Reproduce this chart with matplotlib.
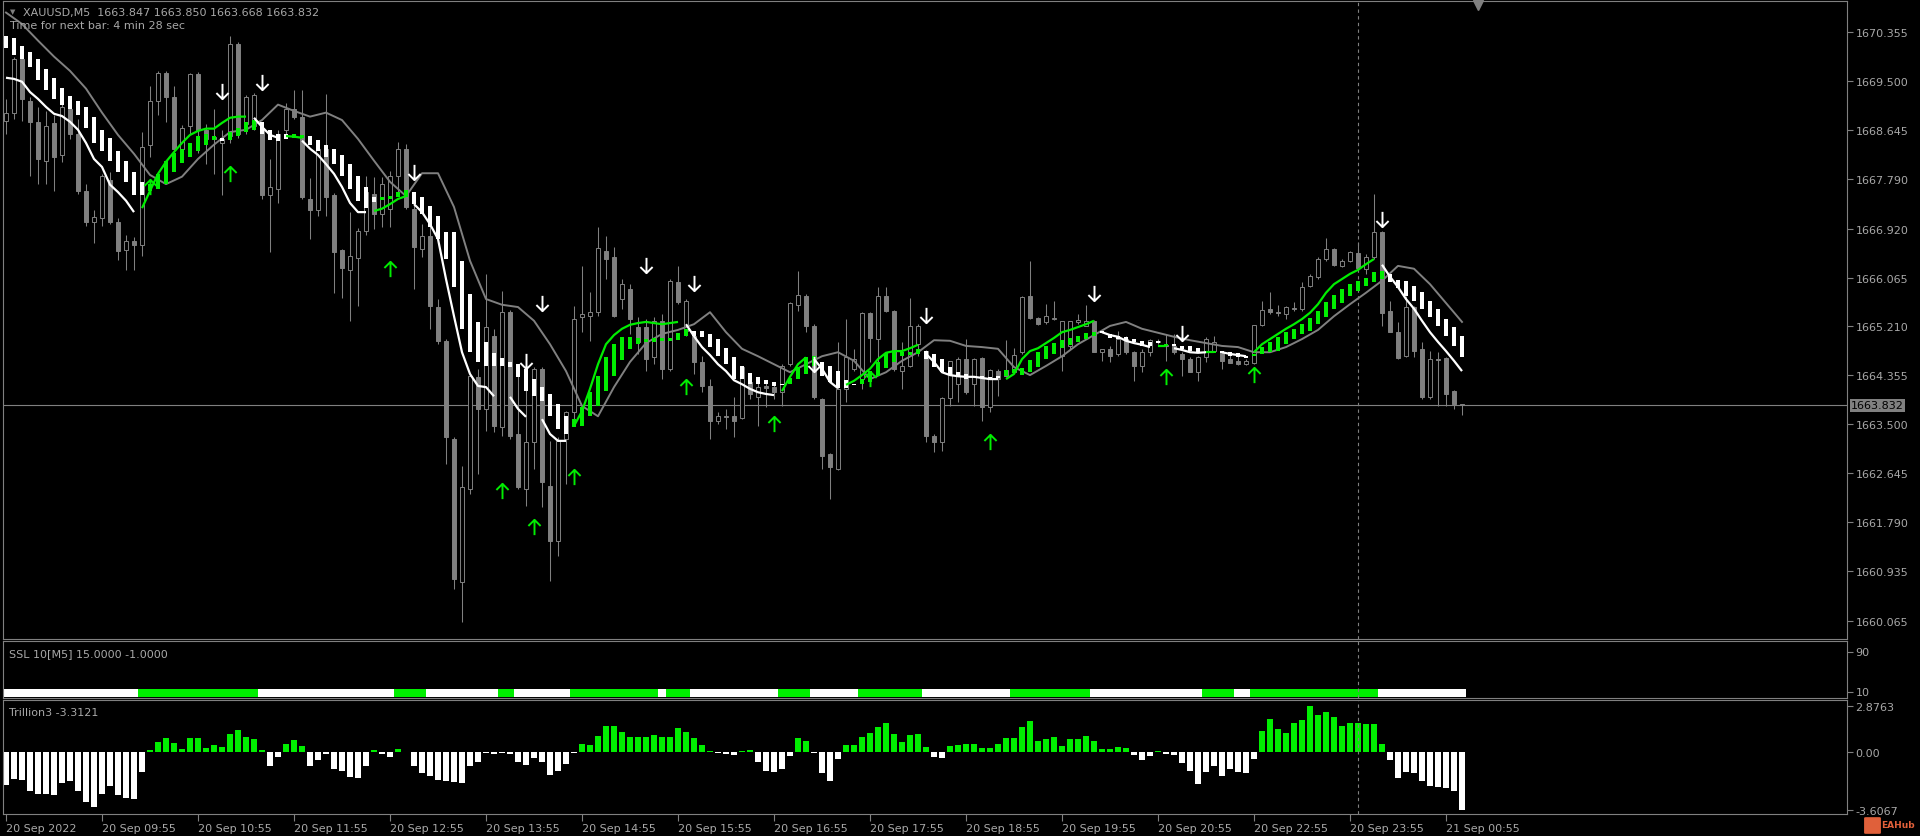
import numpy as np
import matplotlib.pyplot as plt
from matplotlib.path import Path
from matplotlib.patches import FancyBboxPatch
from matplotlib.transforms import blended_transform_factory

plt.rcParams['font.family'] = 'DejaVu Sans'

# ---- XAUUSD M5, 183 bars (20 Sep 08:55 .. 21 Sep 01:05) ----
opens = [1668.81, 1668.95, 1669.89, 1669.16, 1668.79, 1668.11, 1668.77, 1668.21, 1669.02, 1668.58,
         1667.58, 1667.04, 1667.11, 1667.77, 1667.04, 1666.55, 1666.71, 1666.64, 1668.39, 1669.16,
         1669.65, 1669.23, 1668.32, 1668.72, 1669.63, 1668.65, 1668.49, 1668.42, 1668.54, 1670.15,
         1668.75, 1668.72, 1668.68, 1667.51, 1667.62, 1668.65, 1669.02, 1668.88, 1667.44, 1667.25,
         1668.32, 1667.51, 1666.55, 1666.20, 1666.41, 1666.88, 1667.53, 1667.18, 1667.27, 1667.84,
         1668.32, 1667.27, 1666.57, 1666.79, 1665.55, 1664.96, 1663.24, 1660.74, 1662.37, 1664.33,
         1663.77, 1665.04, 1663.45, 1665.46, 1663.33, 1662.37, 1663.19, 1664.47, 1662.42, 1661.46,
         1663.24, 1663.71, 1665.38, 1665.39, 1665.46, 1666.53, 1666.43, 1665.69, 1665.87, 1665.20,
         1665.20, 1664.68, 1665.31, 1664.47, 1665.99, 1665.13, 1665.04, 1664.59, 1664.17, 1663.56,
         1663.64, 1663.64, 1663.61, 1664.24, 1663.98, 1664.17, 1664.15, 1664.06, 1664.55, 1665.59,
         1665.74, 1665.22, 1663.94, 1662.98, 1662.72, 1664.12, 1664.47, 1664.29, 1665.45, 1664.99,
         1665.74, 1665.48, 1664.43, 1664.52, 1664.90, 1664.78, 1663.29, 1663.19, 1663.96, 1664.20,
         1664.64, 1664.20, 1664.66, 1663.80, 1664.43, 1664.45, 1664.41, 1664.76, 1665.74, 1665.36,
         1665.29, 1665.34, 1664.69, 1664.87, 1665.29, 1665.22, 1665.31, 1664.76, 1664.82, 1664.73,
         1664.99, 1664.76, 1664.52, 1664.76, 1664.96, 1664.89, 1664.87, 1664.73, 1664.64, 1664.41,
         1664.68, 1664.78, 1664.76, 1664.64, 1664.61, 1664.55, 1664.57, 1665.23, 1665.52, 1665.46,
         1665.43, 1665.53, 1665.52, 1665.92, 1666.08, 1666.39, 1666.57, 1666.27, 1666.36, 1666.50,
         1666.22, 1666.43, 1666.86, 1665.48, 1665.11, 1664.69, 1665.55, 1664.82, 1663.98, 1664.64,
         1664.66, 1664.08, 1663.847]
highs = [1669.19, 1669.93, 1669.93, 1669.23, 1669.05, 1668.98, 1668.91, 1669.12, 1669.19, 1668.84,
         1667.70, 1667.25, 1667.88, 1667.91, 1667.11, 1666.81, 1666.78, 1668.61, 1669.42, 1669.68,
         1669.68, 1669.42, 1668.74, 1669.65, 1669.66, 1668.75, 1669.02, 1668.65, 1670.29, 1670.19,
         1669.26, 1669.30, 1668.75, 1668.14, 1668.65, 1669.12, 1669.35, 1669.35, 1667.81, 1668.39,
         1669.28, 1667.55, 1666.57, 1667.21, 1666.93, 1667.84, 1667.83, 1667.83, 1667.93, 1668.44,
         1668.40, 1667.44, 1667.00, 1667.04, 1665.69, 1664.99, 1663.28, 1662.77, 1664.38, 1664.47,
         1666.13, 1665.17, 1665.83, 1665.50, 1664.55, 1664.47, 1664.50, 1664.50, 1663.21, 1663.28,
         1663.73, 1665.57, 1666.27, 1665.81, 1666.95, 1666.79, 1666.60, 1666.04, 1665.95, 1665.38,
         1665.34, 1665.38, 1665.43, 1666.04, 1666.27, 1665.69, 1665.13, 1664.69, 1664.29, 1663.71,
         1663.77, 1663.98, 1664.50, 1664.29, 1664.24, 1664.24, 1664.20, 1664.55, 1665.64, 1666.18,
         1665.78, 1665.25, 1663.96, 1663.00, 1664.94, 1665.34, 1664.82, 1665.46, 1665.47, 1665.90,
         1665.90, 1665.50, 1664.94, 1665.71, 1665.25, 1664.80, 1663.33, 1663.98, 1664.61, 1664.68,
         1664.99, 1664.66, 1664.68, 1664.47, 1664.47, 1664.97, 1664.83, 1665.74, 1666.36, 1665.38,
         1665.60, 1665.66, 1665.31, 1665.31, 1665.43, 1665.59, 1665.33, 1664.82, 1664.87, 1665.13,
         1665.04, 1664.78, 1664.82, 1664.99, 1664.99, 1665.08, 1665.08, 1664.76, 1664.68, 1664.69,
         1665.03, 1665.04, 1664.78, 1664.73, 1664.69, 1664.64, 1665.24, 1665.66, 1665.81, 1665.59,
         1665.57, 1665.64, 1665.99, 1666.13, 1666.43, 1666.76, 1666.58, 1666.39, 1666.53, 1666.69,
         1666.48, 1667.53, 1666.88, 1665.66, 1665.29, 1665.74, 1665.57, 1664.94, 1664.78, 1664.76,
         1664.68, 1664.10, 1663.850]
lows = [1668.58, 1668.84, 1668.81, 1667.84, 1667.70, 1667.70, 1667.58, 1668.09, 1668.49, 1667.53,
        1666.97, 1666.67, 1666.97, 1667.00, 1666.37, 1666.20, 1666.20, 1666.44, 1668.18, 1668.91,
        1668.79, 1668.21, 1668.18, 1668.58, 1668.25, 1668.05, 1667.88, 1667.51, 1668.42, 1668.51,
        1668.58, 1668.65, 1667.44, 1666.51, 1667.37, 1668.58, 1668.84, 1667.44, 1666.74, 1667.14,
        1667.14, 1665.80, 1665.71, 1665.31, 1665.57, 1666.81, 1666.92, 1666.95, 1666.95, 1667.53,
        1667.27, 1665.87, 1666.43, 1665.17, 1664.90, 1662.80, 1660.62, 1660.04, 1662.28, 1662.63,
        1663.38, 1663.36, 1663.29, 1663.24, 1662.37, 1662.07, 1662.72, 1662.05, 1660.76, 1661.19,
        1662.45, 1663.59, 1665.11, 1664.96, 1665.39, 1666.04, 1665.38, 1665.52, 1665.08, 1664.73,
        1664.43, 1664.55, 1664.29, 1664.43, 1665.60, 1665.04, 1664.38, 1664.06, 1663.24, 1663.50,
        1663.42, 1663.28, 1663.59, 1663.94, 1663.47, 1663.80, 1663.94, 1663.82, 1664.52, 1665.48,
        1665.11, 1663.94, 1662.72, 1662.19, 1662.70, 1663.89, 1664.43, 1664.12, 1664.59, 1664.59,
        1665.46, 1664.43, 1664.12, 1664.50, 1664.69, 1663.19, 1663.01, 1663.03, 1663.82, 1663.89,
        1664.03, 1663.82, 1663.56, 1663.71, 1663.99, 1664.33, 1664.40, 1664.73, 1665.34, 1665.24,
        1665.25, 1665.32, 1664.43, 1664.82, 1665.25, 1665.21, 1664.76, 1664.61, 1664.59, 1664.69,
        1664.73, 1664.26, 1664.41, 1664.69, 1664.90, 1664.61, 1664.73, 1664.34, 1664.41, 1664.26,
        1664.59, 1664.76, 1664.47, 1664.57, 1664.54, 1664.53, 1664.55, 1665.22, 1665.43, 1665.39,
        1665.34, 1665.48, 1665.48, 1665.90, 1666.04, 1666.36, 1666.27, 1666.25, 1666.34, 1666.22,
        1666.13, 1666.39, 1665.22, 1665.11, 1664.64, 1664.68, 1664.68, 1663.94, 1663.94, 1663.82,
        1663.82, 1663.77, 1663.668]
closes = [1668.95, 1669.89, 1669.19, 1668.79, 1668.14, 1668.72, 1668.18, 1669.05, 1668.58, 1667.58,
          1667.04, 1667.13, 1667.84, 1667.04, 1666.53, 1666.71, 1666.64, 1668.35, 1669.16, 1669.65,
          1669.23, 1668.32, 1668.68, 1669.63, 1668.65, 1668.49, 1668.53, 1668.49, 1670.15, 1668.58,
          1669.23, 1669.26, 1667.51, 1667.65, 1668.58, 1669.02, 1668.88, 1667.48, 1667.25, 1668.32,
          1667.48, 1666.51, 1666.23, 1666.44, 1666.88, 1667.56, 1667.18, 1667.70, 1667.84, 1668.32,
          1667.30, 1666.60, 1666.79, 1665.57, 1664.96, 1663.28, 1660.79, 1662.40, 1664.34, 1663.77,
          1665.20, 1663.47, 1665.46, 1663.29, 1662.40, 1663.19, 1664.47, 1662.49, 1661.46, 1663.21,
          1663.71, 1665.34, 1665.43, 1665.46, 1666.58, 1666.39, 1665.39, 1665.95, 1665.34, 1664.94,
          1664.64, 1665.31, 1664.47, 1666.01, 1665.64, 1665.66, 1664.59, 1664.17, 1663.56, 1663.64,
          1663.63, 1663.56, 1664.50, 1664.03, 1664.15, 1664.13, 1664.06, 1664.52, 1665.62, 1665.76,
          1665.22, 1663.98, 1662.94, 1662.75, 1664.12, 1664.68, 1664.64, 1665.45, 1665.01, 1665.74,
          1665.48, 1664.47, 1664.52, 1665.22, 1665.22, 1663.29, 1663.19, 1663.96, 1664.61, 1664.64,
          1664.06, 1664.64, 1663.80, 1664.45, 1664.29, 1664.34, 1664.71, 1665.72, 1665.36, 1665.25,
          1665.39, 1665.36, 1665.30, 1665.30, 1665.32, 1665.31, 1664.77, 1664.81, 1664.69, 1664.99,
          1664.76, 1664.52, 1664.76, 1664.98, 1664.94, 1664.87, 1664.76, 1664.64, 1664.42, 1664.68,
          1664.99, 1664.94, 1664.61, 1664.58, 1664.55, 1664.61, 1665.23, 1665.50, 1665.46, 1665.45,
          1665.55, 1665.52, 1665.90, 1666.09, 1666.39, 1666.57, 1666.29, 1666.36, 1666.51, 1666.23,
          1666.43, 1666.86, 1665.45, 1665.12, 1664.66, 1665.55, 1664.78, 1663.98, 1664.64, 1664.62,
          1664.03, 1663.85, 1663.832]

# thick indicator bars (open / close of each bar)
ha_open = [1670.29, 1670.26, 1670.12, 1670.01, 1669.89, 1669.72, 1669.56, 1669.38, 1669.24, 1669.16,
           1669.05, 1668.88, 1668.65, 1668.51, 1668.28, 1668.11, 1667.91, 1667.74, 1667.58, 1667.62,
           1667.70, 1667.91, 1668.07, 1668.18, 1668.28, 1668.39, 1668.47, 1668.51, 1668.47, 1668.54,
           1668.61, 1668.65, 1668.79, 1668.65, 1668.58, 1668.58, 1668.51, 1668.51, 1668.54, 1668.47,
           1668.39, 1668.32, 1668.21, 1668.05, 1667.84, 1667.65, 1667.48, 1667.42, 1667.44, 1667.48,
           1667.48, 1667.56, 1667.48, 1667.32, 1667.14, 1666.86, 1666.86, 1666.36, 1665.78, 1665.29,
           1664.94, 1664.75, 1664.66, 1664.59, 1664.55, 1664.47, 1664.29, 1664.15, 1664.03, 1663.85,
           1663.64, 1663.45, 1663.47, 1663.64, 1663.82, 1664.08, 1664.34, 1664.62, 1664.82, 1664.90,
           1664.94, 1664.94, 1664.96, 1664.96, 1664.97, 1665.04, 1665.13, 1665.13, 1665.08, 1664.99,
           1664.83, 1664.68, 1664.52, 1664.40, 1664.33, 1664.27, 1664.24, 1664.20, 1664.20, 1664.29,
           1664.38, 1664.52, 1664.59, 1664.52, 1664.43, 1664.27, 1664.20, 1664.20, 1664.24, 1664.34,
           1664.48, 1664.59, 1664.69, 1664.71, 1664.73, 1664.78, 1664.73, 1664.64, 1664.50, 1664.41,
           1664.38, 1664.34, 1664.34, 1664.33, 1664.33, 1664.34, 1664.40, 1664.36, 1664.41, 1664.50,
           1664.64, 1664.73, 1664.83, 1664.89, 1664.94, 1664.99, 1665.04, 1665.13, 1665.08, 1665.04,
           1665.03, 1664.99, 1664.96, 1664.94, 1664.96, 1664.87, 1664.90, 1664.87, 1664.87, 1664.83,
           1664.76, 1664.75, 1664.78, 1664.76, 1664.75, 1664.69, 1664.69, 1664.73, 1664.76, 1664.78,
           1664.90, 1664.99, 1665.08, 1665.13, 1665.25, 1665.38, 1665.52, 1665.62, 1665.74, 1665.83,
           1665.92, 1665.99, 1666.04, 1666.13, 1666.02, 1666.01, 1665.92, 1665.81, 1665.66, 1665.52,
           1665.34, 1665.20, 1665.04]
ha_close = [1670.08, 1669.96, 1669.89, 1669.75, 1669.52, 1669.35, 1669.19, 1669.09, 1669.02, 1668.91,
            1668.68, 1668.42, 1668.28, 1668.11, 1667.91, 1667.74, 1667.51, 1667.51, 1667.70, 1667.88,
            1668.11, 1668.25, 1668.32, 1668.42, 1668.54, 1668.58, 1668.54, 1668.46, 1668.61, 1668.68,
            1668.79, 1668.82, 1668.58, 1668.47, 1668.46, 1668.49, 1668.58, 1668.56, 1668.39, 1668.28,
            1668.18, 1668.05, 1667.84, 1667.62, 1667.41, 1667.28, 1667.39, 1667.48, 1667.49, 1667.56,
            1667.60, 1667.35, 1667.18, 1666.95, 1666.74, 1666.39, 1665.90, 1665.17, 1664.76, 1664.59,
            1664.52, 1664.52, 1664.52, 1664.50, 1664.33, 1664.08, 1663.99, 1663.91, 1663.64, 1663.42,
            1663.33, 1663.59, 1663.80, 1664.06, 1664.34, 1664.68, 1664.90, 1665.03, 1665.03, 1665.01,
            1664.99, 1665.01, 1665.01, 1665.01, 1665.10, 1665.17, 1665.04, 1665.03, 1664.85, 1664.69,
            1664.55, 1664.29, 1664.29, 1664.20, 1664.20, 1664.20, 1664.17, 1664.18, 1664.31, 1664.50,
            1664.68, 1664.69, 1664.34, 1664.24, 1664.13, 1664.13, 1664.18, 1664.29, 1664.43, 1664.59,
            1664.75, 1664.78, 1664.76, 1664.76, 1664.82, 1664.64, 1664.50, 1664.41, 1664.36, 1664.33,
            1664.29, 1664.32, 1664.31, 1664.29, 1664.31, 1664.45, 1664.47, 1664.48, 1664.62, 1664.76,
            1664.87, 1664.92, 1664.97, 1665.01, 1665.04, 1665.10, 1665.11, 1665.10, 1665.01, 1664.99,
            1664.96, 1664.94, 1664.87, 1664.87, 1664.92, 1664.89, 1664.87, 1664.82, 1664.78, 1664.75,
            1664.78, 1664.78, 1664.75, 1664.69, 1664.68, 1664.66, 1664.73, 1664.85, 1664.94, 1665.03,
            1665.11, 1665.17, 1665.25, 1665.36, 1665.48, 1665.64, 1665.76, 1665.87, 1665.95, 1666.01,
            1666.06, 1666.16, 1666.18, 1665.99, 1665.88, 1665.74, 1665.66, 1665.52, 1665.38, 1665.22,
            1665.04, 1664.87, 1664.68]

# slow gray band, read every second bar
gray_bars = list(range(0, 183, 2))
gray_vals = [1670.70, 1670.50, 1670.21, 1669.93, 1669.68, 1669.37, 1668.95, 1668.56, 1668.23, 1667.86,
             1667.70, 1667.83, 1668.14, 1668.39, 1668.61, 1668.65, 1668.82, 1669.09, 1668.98, 1668.88,
             1668.95, 1668.82, 1668.49, 1668.11, 1667.74, 1667.49, 1667.89, 1667.89, 1667.30, 1666.36,
             1665.69, 1665.59, 1665.55, 1665.31, 1664.90, 1664.43, 1663.82, 1663.64, 1664.15, 1664.59,
             1664.92, 1665.08, 1665.15, 1665.25, 1665.46, 1665.11, 1664.82, 1664.69, 1664.55, 1664.41,
             1664.55, 1664.69, 1664.76, 1664.61, 1664.29, 1664.41, 1664.61, 1664.76, 1664.97, 1664.96,
             1664.87, 1664.85, 1664.82, 1664.50, 1664.36, 1664.52, 1664.69, 1664.90, 1665.06, 1665.22,
             1665.29, 1665.17, 1665.10, 1665.03, 1664.97, 1664.92, 1664.87, 1664.85, 1664.76, 1664.76,
             1664.85, 1664.99, 1665.15, 1665.39, 1665.60, 1665.80, 1666.01, 1666.27, 1666.22, 1665.95,
             1665.62, 1665.29]

# trend line pieces: (first bar, colour, values)
trend_segments = [
    (0, 'w', [1669.56, 1669.54, 1669.49, 1669.31, 1669.19, 1669.05, 1668.93, 1668.89, 1668.79, 1668.65,
              1668.42, 1668.14, 1668.00, 1667.69, 1667.56, 1667.41, 1667.21]),
    (17, 'g', [1667.28, 1667.58, 1667.88, 1668.09, 1668.26, 1668.42, 1668.56, 1668.63, 1668.67, 1668.67,
               1668.77, 1668.86, 1668.88, 1668.88]),
    (31, 'w', [1668.86, 1668.70, 1668.56, 1668.51]),
    (35, 'g', [1668.54, 1668.53, 1668.51]),
    (37, 'w', [1668.46, 1668.32, 1668.21, 1668.05, 1667.88, 1667.65, 1667.37, 1667.21, 1667.21]),
    (46, 'g', [1667.23, 1667.27, 1667.35, 1667.44, 1667.49]),
    (51, 'w', [1667.35, 1667.21, 1667.00, 1666.74, 1666.04, 1665.39, 1664.76, 1664.38, 1664.17, 1664.15, 1663.99]),
    (63, 'w', [1663.98, 1663.77, 1663.63]),
    (67, 'w', [1663.59, 1663.33, 1663.21, 1663.21]),
    (71, 'g', [1663.47, 1663.73, 1664.12, 1664.55, 1664.90, 1665.06, 1665.17, 1665.24, 1665.27, 1665.29,
               1665.27, 1665.25, 1665.27, 1665.29]),
    (85, 'w', [1665.25, 1665.04, 1664.85, 1664.71, 1664.55, 1664.43, 1664.27, 1664.20, 1664.12, 1664.06,
               1664.03, 1664.01]),
    (97, 'g', [1664.08, 1664.33, 1664.55, 1664.67]),
    (101, 'w', [1664.64, 1664.47, 1664.24, 1664.13]),
    (105, 'g', [1664.19, 1664.26, 1664.36, 1664.47, 1664.64, 1664.75, 1664.78, 1664.78, 1664.83, 1664.89]),
    (115, 'w', [1664.73, 1664.59, 1664.41, 1664.36, 1664.34, 1664.33, 1664.33, 1664.31, 1664.29, 1664.29]),
    (125, 'g', [1664.29, 1664.38, 1664.64, 1664.78, 1664.83, 1664.92, 1665.01, 1665.11, 1665.15, 1665.20,
                1665.25, 1665.31]),
    (137, 'w', [1665.11, 1665.06, 1665.03, 1664.96, 1664.92, 1664.89, 1664.85]),
    (144, 'g', [1664.87, 1664.87]),
    (146, 'w', [1664.83, 1664.80, 1664.76, 1664.75, 1664.76]),
    (150, 'g', [1664.76, 1664.76]),
    (152, 'w', [1664.76, 1664.73, 1664.71, 1664.69]),
    (156, 'g', [1664.76, 1664.90, 1664.99, 1665.08, 1665.17, 1665.25, 1665.34, 1665.45, 1665.60, 1665.80,
                1665.95, 1666.04, 1666.13, 1666.20, 1666.30, 1666.39]),
    (172, 'w', [1666.29, 1666.08, 1665.90, 1665.69, 1665.52, 1665.31, 1665.11, 1664.94, 1664.78, 1664.61, 1664.43]),
]

# signal arrows
down_bars = [27, 32, 51, 65, 67, 80, 86, 101, 115, 136, 147, 172]
down_vals = [1669.33, 1669.49, 1667.91, 1664.61, 1665.62, 1666.29, 1665.97, 1664.55, 1665.41, 1665.80, 1665.10, 1667.09]
up_bars = [18, 28, 48, 62, 66, 71, 85, 96, 108, 123, 145, 156]
up_vals = [1667.65, 1667.88, 1666.22, 1662.33, 1661.70, 1662.57, 1664.15, 1663.50, 1664.29, 1663.19, 1664.33, 1664.36]

# SSL state runs: (number of bars, state)
ssl_runs = [(17, 'w'), (15, 'g'), (17, 'w'), (4, 'g'), (9, 'w'), (2, 'g'), (7, 'w'), (11, 'g'), (1, 'w'),
            (3, 'g'), (11, 'w'), (4, 'g'), (6, 'w'), (8, 'g'), (11, 'w'), (10, 'g'), (14, 'w'), (4, 'g'),
            (2, 'w'), (16, 'g'), (11, 'w')]

trillion = [-2.06, -1.70, -1.76, -2.45, -2.64, -2.64, -2.68, -1.90, -1.82, -2.45,
            -3.10, -3.44, -2.58, -2.12, -2.68, -2.89, -2.95, -1.24, 0.13, 0.61,
            0.88, 0.57, 0.19, 0.88, 0.88, 0.29, 0.44, 0.34, 1.13, 1.38,
            0.92, 0.82, 0.13, -0.86, -0.29, 0.50, 0.75, 0.36, -0.86, -0.48,
            -0.13, -1.03, -1.17, -1.55, -1.61, -0.86, 0.13, -0.13, -0.29, 0.19,
            0.02, -0.86, -1.32, -1.49, -1.74, -1.80, -1.87, -1.95, -0.86, -0.61,
            -0.06, -0.10, -0.08, -0.13, -0.61, -0.82, -0.36, -0.61, -1.42, -1.17,
            -0.75, -0.08, 0.50, 0.44, 1.03, 1.66, 1.66, 1.28, 0.96, 0.96,
            0.96, 1.07, 0.92, 0.96, 1.53, 1.24, 0.86, 0.44, 0.08, -0.06,
            -0.13, -0.17, 0.06, 0.13, -0.61, -1.17, -1.24, -1.03, -0.27, 0.88,
            0.67, -0.06, -1.32, -1.80, -0.40, 0.44, 0.44, 0.92, 1.20, 1.55,
            1.82, 1.11, 0.61, 1.07, 1.11, 0.31, -0.29, -0.36, 0.40, 0.46,
            0.50, 0.50, 0.29, 0.25, 0.50, 0.88, 0.88, 1.57, 1.95, 0.69,
            0.82, 0.94, 0.38, 0.82, 0.82, 1.00, 0.69, 0.19, 0.19, 0.31,
            0.29, -0.17, -0.50, -0.23, 0.06, -0.13, -0.17, -0.69, -1.17, -2.01,
            -1.24, -0.86, -1.49, -1.07, -1.22, -1.32, -0.44, 1.34, 2.08, 1.45,
            1.20, 1.82, 2.01, 2.8763, 2.33, 2.52, 2.18, 1.66, 1.80, 1.82,
            1.78, 1.76, 0.50, -0.48, -1.61, -1.24, -1.28, -1.82, -2.12, -2.16,
            -2.24, -2.45, -3.6067]

time_ticks = [0, 12, 24, 36, 48, 60, 72, 84, 96, 108, 120, 132, 144, 156, 168, 180]
time_labels = ['20 Sep 2022', '20 Sep 09:55', '20 Sep 10:55', '20 Sep 11:55', '20 Sep 12:55',
               '20 Sep 13:55', '20 Sep 14:55', '20 Sep 15:55', '20 Sep 16:55', '20 Sep 17:55',
               '20 Sep 18:55', '20 Sep 19:55', '20 Sep 20:55', '20 Sep 22:55', '20 Sep 23:55',
               '21 Sep 00:55']
price_ticks = [1670.355, 1669.500, 1668.645, 1667.790, 1666.920, 1666.065, 1665.210,
               1664.355, 1663.500, 1662.645, 1661.790, 1660.935, 1660.065]
bid = 1663.832
separator_bar = 169

# ---- style ----
BG = 'black'
GRAY = '#808080'
TXT = '#a8a8a8'
LIME = '#00ee00'
COL = {'w': 'white', 'g': LIME}

W, H = 1920, 837
fig = plt.figure(figsize=(W / 100, H / 100), dpi=100, facecolor=BG)


def panel(x0, y0, x1, y1):
    a = fig.add_axes([x0 / W, 1 - y1 / H, (x1 - x0) / W, (y1 - y0) / H], facecolor=BG)
    a.set_xlim(-0.375, 230.125)
    for s in a.spines.values():
        s.set_color(GRAY)
        s.set_linewidth(0.8)
    a.yaxis.tick_right()
    a.tick_params(axis='y', colors=GRAY, labelcolor=TXT, labelsize=8, length=4, width=0.8, pad=2)
    a.tick_params(axis='x', bottom=False, labelbottom=False)
    return a


ax = panel(3, 2, 1847, 640)
ax_ssl = panel(3, 642, 1847, 699)
ax_tr = panel(3, 701, 1847, 815)

# ---- main chart ----
ax.set_ylim(1659.745, 1670.902)
ax.set_yticks(price_ticks)
ax.set_yticklabels(['%.3f' % p for p in price_ticks])

x = np.arange(len(closes))
o, h, l, c = (np.array(v) for v in (opens, highs, lows, closes))
bull = c >= o
ax.vlines(x, l, h, color=GRAY, lw=0.75, zorder=2)
body_h = np.maximum(np.abs(c - o), 0.012)
body_b = np.minimum(o, c)
ax.bar(x[bull], body_h[bull], bottom=body_b[bull], width=0.42, facecolor=BG,
       edgecolor=GRAY, linewidth=0.7, zorder=3)
ax.bar(x[~bull], body_h[~bull], bottom=body_b[~bull], width=0.42, facecolor=GRAY,
       edgecolor=GRAY, linewidth=0.7, zorder=3)

ax.plot(gray_bars, gray_vals, color=GRAY, lw=1.4, zorder=4)

hao, hac = np.array(ha_open), np.array(ha_close)
ha_col = np.where(hac < hao, 'white', LIME)
ax.bar(x, np.maximum(np.abs(hac - hao), 0.03), bottom=np.minimum(hao, hac), width=0.62,
       color=ha_col, linewidth=0, zorder=5)

for start, col, vals in trend_segments:
    ax.plot(np.arange(start, start + len(vals)), vals, color=COL[col], lw=1.6, zorder=6,
            solid_capstyle='butt')

down_path = Path([(0, 1), (0, -1), (-0.8, -0.2), (0, -1), (0.8, -0.2)],
                 [Path.MOVETO, Path.LINETO, Path.MOVETO, Path.LINETO, Path.LINETO])
up_path = Path([(0, -1), (0, 1), (-0.8, 0.2), (0, 1), (0.8, 0.2)],
               [Path.MOVETO, Path.LINETO, Path.MOVETO, Path.LINETO, Path.LINETO])
ax.plot(down_bars, down_vals, ls='none', marker=down_path, ms=11, mec='white', mfc='none',
        mew=1.4, zorder=8)
ax.plot(up_bars, up_vals, ls='none', marker=up_path, ms=11, mec=LIME, mfc='none',
        mew=1.4, zorder=8)

ax.axhline(bid, color=GRAY, lw=0.8, zorder=1)
ax.annotate('%.3f' % bid, xy=(1, bid), xycoords=('axes fraction', 'data'), xytext=(4, 0),
            textcoords='offset pixels', va='center', ha='left', fontsize=8, color='black',
            bbox=dict(boxstyle='square,pad=0.12', fc=GRAY, ec='none'), annotation_clip=False)

# chart shift marker
tr = blended_transform_factory(ax.transData, ax.transAxes)
ax.plot([len(closes) + 1], [0.994], marker='v', ms=7, color=GRAY, transform=tr, clip_on=False)

# ---- SSL panel ----
ax_ssl.set_ylim(-3, 111)
ax_ssl.set_yticks([90, 10])
ax_ssl.set_yticklabels(['90', '10'])
ssl_col = [COL[s] for n, s in ssl_runs for _ in range(n)]
ax_ssl.bar(x, 16, bottom=-1, width=1.0, color=ssl_col, linewidth=0)

# ---- Trillion panel ----
ax_tr.set_ylim(-3.858, 3.254)
ax_tr.set_yticks([2.8763, 0.0, -3.6067])
ax_tr.set_yticklabels(['2.8763', '0.00', '-3.6067'])
tv = np.array(trillion)
ax_tr.bar(x, tv, width=0.78, color=np.where(tv > 0, LIME, 'white'), linewidth=0)
ax_tr.tick_params(axis='x', bottom=True, labelbottom=True, length=5, width=0.8, colors=GRAY,
                  labelcolor=TXT, labelsize=8, pad=1.5)
ax_tr.set_xticks(time_ticks)
ax_tr.set_xticklabels(time_labels, ha='left')

for a in (ax, ax_ssl, ax_tr):
    a.axvline(separator_bar, color=GRAY, lw=0.8, ls=(0, (3, 3)), zorder=1)

# ---- texts ----
fig.text(10 / W, 1 - 12 / H, '\u25bc', fontsize=5, color=GRAY, va='center', ha='left')
fig.text(23 / W, 1 - 13 / H, 'XAUUSD,M5  1663.847 1663.850 1663.668 1663.832', fontsize=8,
         color=TXT, va='center', ha='left')
fig.text(10 / W, 1 - 26 / H, 'Time for next bar: 4 min 28 sec', fontsize=8, color=TXT,
         va='center', ha='left')
fig.text(9 / W, 1 - 654 / H, 'SSL 10[M5] 15.0000 -1.0000', fontsize=8, color=TXT,
         va='center', ha='left')
fig.text(9 / W, 1 - 713 / H, 'Trillion3 -3.3121', fontsize=8, color=TXT, va='center', ha='left')

fig.patches.append(FancyBboxPatch((1866 / W, 1 - 834 / H), 13 / W, 15 / H,
                                  boxstyle='round,pad=0.001', transform=fig.transFigure,
                                  fc='#e0603a', ec='none'))
fig.text(1881 / W, 1 - 826 / H, 'EAHub', fontsize=6.5, color='#e0603a', va='center', ha='left',
         fontweight='bold')

fig.savefig('out.png', dpi=100, facecolor=BG)
